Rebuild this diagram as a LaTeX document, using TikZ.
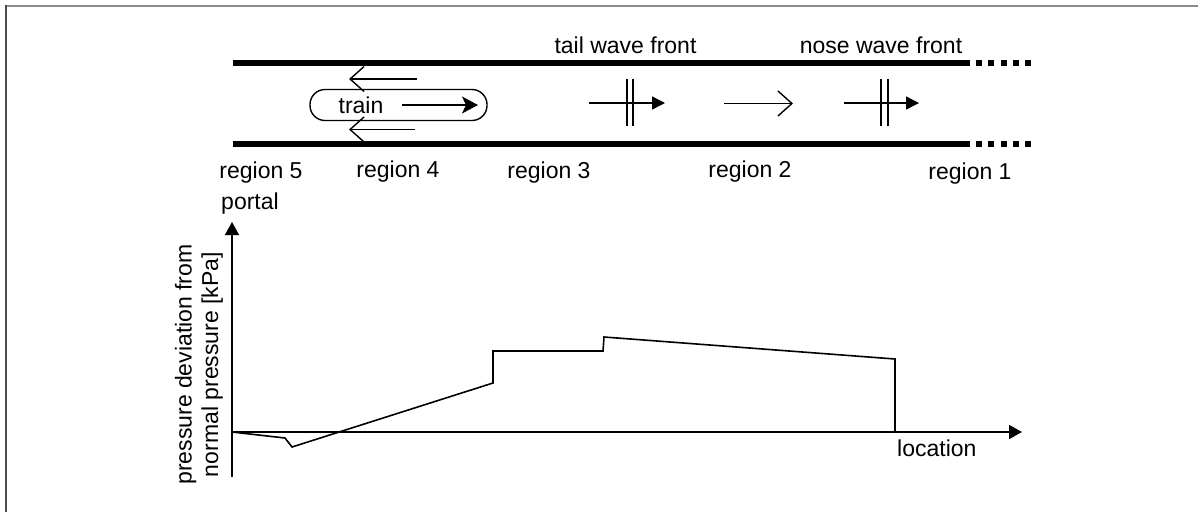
\documentclass[tikz,border=0pt]{standalone}
\usepackage{fontspec}
\setmainfont{Liberation Sans}
\usetikzlibrary{arrows.meta}
\begin{document}
\begin{tikzpicture}[x=1pt,y=-1pt,
  lbl/.style={inner sep=0pt,font=\fontsize{23}{26}\selectfont},
  tube/.style={line width=6pt},
  tubedash/.style={line width=6pt,dash pattern=on 6pt off 6.3pt},
  thin/.style={line width=1.4pt},
  curve/.style={line width=1.6pt,line join=miter},
  filledhead/.style={-{Triangle[length=13pt,width=13pt]}},
  barbhead/.style={-{Straight Barb[length=14pt,width=25pt,line width=1.4pt]}},
  trainhead/.style={-{Stealth[length=16pt,width=17pt,inset=4pt]}},
  axishead/.style={-{Triangle[length=13pt,width=14pt]}}
]
\useasboundingbox (0,0) rectangle (1198,512);
% frame
\draw[line width=2pt,color=black!45] (4.5,5.5) -- (1198,5.5);
\draw[line width=2pt,color=black!70] (5.5,4.5) -- (5.5,512);

% tube
\coordinate (ta) at (233,63);
\coordinate (tb) at (970,63);
\coordinate (tc) at (976,63);
\coordinate (td) at (1032,63);
\coordinate (ba) at (233,144);
\coordinate (bb) at (970,144);
\coordinate (bc) at (976,144);
\coordinate (bd) at (1032,144);
\draw[tube] (ta) -- (tb);
\draw[tube] (ba) -- (bb);
\draw[tubedash] (tc) -- (td);
\draw[tubedash] (bc) -- (bd);

% train
\node[draw,thin,rounded corners=15pt,minimum width=177pt,minimum height=31pt,inner sep=0pt] (train) at (398.5,105) {};
\node[lbl,anchor=center] (trainlbl) at (361,105) {train};
\coordinate (tra) at (402,105);
\coordinate (trb) at (478,105);
\draw[thin,trainhead] (tra) -- (trb);

% air flow arrows beside train
\coordinate (ua) at (417,79);
\coordinate (ub) at (349,79);
\coordinate (la) at (415,129.5);
\coordinate (lb) at (349,129.5);
\draw[thin,barbhead] (ua) -- (ub);
\draw[thin,barbhead] (la) -- (lb);

% tail wave front symbol
\coordinate (twa) at (589,103);
\coordinate (twb) at (665,103);
\draw[thin,filledhead] (twa) -- (twb);
\coordinate (tw1a) at (627,79); \coordinate (tw1b) at (627,126);
\coordinate (tw2a) at (633,79); \coordinate (tw2b) at (633,126);
\draw[thin] (tw1a) -- (tw1b);
\draw[thin] (tw2a) -- (tw2b);

% middle arrow
\coordinate (ma) at (724,103.5);
\coordinate (mb) at (793,103.5);
\draw[thin,barbhead] (ma) -- (mb);

% nose wave front symbol
\coordinate (nwa) at (844,103);
\coordinate (nwb) at (919,103);
\draw[thin,filledhead] (nwa) -- (nwb);
\coordinate (nw1a) at (881,79); \coordinate (nw1b) at (881,126);
\coordinate (nw2a) at (888,79); \coordinate (nw2b) at (888,126);
\draw[thin] (nw1a) -- (nw1b);
\draw[thin] (nw2a) -- (nw2b);

% top labels
\node[lbl] (tailwf) at (625.5,45) {tail wave front};
\node[lbl] (nosewf) at (881,45) {nose wave front};

% region labels
\node[lbl] (r5) at (261,173) {region 5};
\node[lbl] (r4) at (398,172) {region 4};
\node[lbl] (r3) at (549,173) {region 3};
\node[lbl] (r2) at (750,172) {region 2};
\node[lbl] (r1) at (970,174) {region 1};
\node[lbl] (portal) at (250,204) {portal};

% axes
\coordinate (o) at (232,432);
\coordinate (ybot) at (232,477);
\coordinate (ytop) at (232,222);
\coordinate (xend) at (1022,432);
\draw[thin,axishead] (ybot) -- (ytop);
\draw[thin,axishead] (o) -- (xend);
\node[lbl,anchor=north west] (loc) at (897,440) {location};
\node[lbl,rotate=90,align=center,font=\fontsize{23}{26.5}\selectfont] (ylab) at (199,364.5) {pressure deviation from\\normal pressure [kPa]};

% pressure curve
\coordinate (p1) at (285,438);
\coordinate (p2) at (292,447);
\coordinate (p3) at (493,383);
\coordinate (p4) at (493,351);
\coordinate (p5) at (603,351);
\coordinate (p6) at (604,337);
\coordinate (p7) at (895,359);
\coordinate (p8) at (895,432);
\draw[curve] (o) -- (p1) -- (p2) -- (p3) -- (p4) -- (p5) -- (p6) -- (p7) -- (p8);
\end{tikzpicture}
\end{document}
